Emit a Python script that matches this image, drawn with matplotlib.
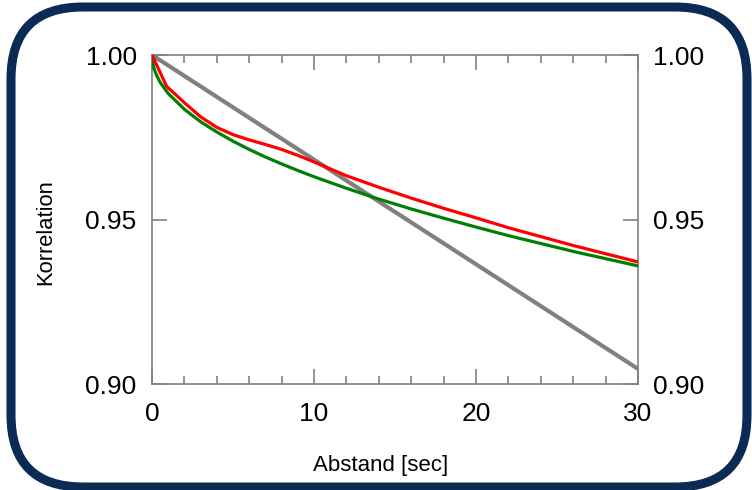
import matplotlib
matplotlib.use("Agg")
from matplotlib import pyplot as plt
from matplotlib.patches import FancyBboxPatch
from matplotlib.ticker import MultipleLocator

plt.rcParams['font.family'] = ['Liberation Sans', 'DejaVu Sans']

# Abstand [sec] and Korrelation
x_red = [0, 0.9, 2, 3, 4, 5, 6, 7, 8, 9, 10, 12, 14, 16, 18, 20, 22, 24, 26, 28, 30]
y_red = [1.000, 0.9905, 0.9855, 0.9812, 0.9780, 0.9758, 0.9742, 0.9728, 0.9713, 0.9695,
         0.9675, 0.9633, 0.9598, 0.9565, 0.9534, 0.9505, 0.9475, 0.9448, 0.9421, 0.9396, 0.9371]

x_green = [0, 0.1, 0.25, 0.5, 1, 2, 3, 4, 5, 6, 7, 8, 9, 10, 12, 14, 16, 18, 20, 22, 24, 26, 28, 30]
y_green = [1.000, 0.9963, 0.9942, 0.9917, 0.9883, 0.9835, 0.9797, 0.9766, 0.9738, 0.9713,
           0.9690, 0.9669, 0.9649, 0.9630, 0.9595, 0.9562, 0.9532, 0.9504, 0.9477, 0.9451,
           0.9427, 0.9403, 0.9381, 0.9359]

x_gray = [0, 30]
y_gray = [1.000, 0.9046]

fig = plt.figure(figsize=(7.52, 4.90), dpi=100)

# background axes in pixel units for the rounded frame
bg = fig.add_axes([0, 0, 1, 1], zorder=-1)
bg.set_xlim(0, 752)
bg.set_ylim(490, 0)
bg.axis('off')
frame = FancyBboxPatch((11, 7), 736, 480, boxstyle="round,pad=0,rounding_size=72",
                       facecolor='white', edgecolor='#0b2a54', linewidth=6.5)
bg.add_patch(frame)

ax = fig.add_axes([152 / 752, 1 - 384 / 490, 486 / 752, 329 / 490])
ax.set_facecolor('none')

ax.plot(x_gray, y_gray, color='#808080', lw=3.0, solid_capstyle='butt', zorder=2)
ax.plot(x_green, y_green, color='#008000', lw=2.3, zorder=3)
ax.plot(x_red, y_red, color='#ff0000', lw=2.3, zorder=4)

ax.set_xlim(0, 30)
ax.set_ylim(0.90, 1.00)
ax.set_xticks([0, 10, 20, 30])
ax.xaxis.set_minor_locator(MultipleLocator(2))
ax.set_yticks([0.90, 0.95, 1.00])
ax.set_yticklabels(['0.90', '0.95', '1.00'])

for s in ax.spines.values():
    s.set_color('#808080')
    s.set_linewidth(1.2)

ax.tick_params(which='both', direction='in', top=True, right=True,
               labelright=True, color='#808080', width=1.2)
ax.tick_params(which='major', length=11, labelsize=19, pad=11)
ax.tick_params(which='minor', length=6)
ax.tick_params(axis='x', which='major', pad=13)

ax.set_xlabel('Abstand [sec]', fontsize=16, labelpad=21)
ax.set_ylabel('Korrelation', fontsize=15.8, labelpad=21)
# labels in the original sit a little off centre
ax.xaxis.label.set_x(0.471)
ax.yaxis.label.set_y(0.462)

fig.savefig('out.png', dpi=100)
